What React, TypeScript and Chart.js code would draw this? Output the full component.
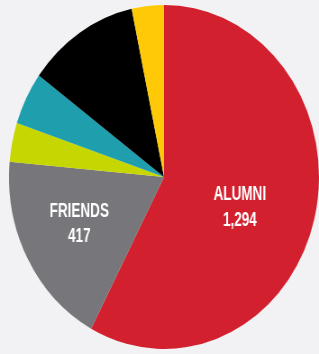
import React, { useEffect, useRef } from "react";
import { Chart, registerables } from "chart.js";

Chart.register(...registerables);

const categories = ["ALUMNI", "FRIENDS", "OTHER A", "OTHER B", "OTHER C", "OTHER D"];
const values = [1294, 417, 82, 111, 260, 75];
const valueLabels = ["1,294", "417", "", "", "", ""];
const showLabel = [true, true, false, false, false, false];
const colors = ["#d2202f", "#77777b", "#c6d600", "#1f9fae", "#000000", "#ffc907"];

const labelPlugin = {
  id: "sliceLabels",
  afterDatasetsDraw(chart: any) {
    const ctx = chart.ctx;
    const meta = chart.getDatasetMeta(0);
    const place: Record<number, { f: number; da: number }> = {
      0: { f: 0.52, da: 0.1 },
      1: { f: 0.61, da: 0.035 },
    };
    meta.data.forEach((arc: any, i: number) => {
      if (!showLabel[i]) return;
      const { x, y, startAngle, endAngle, outerRadius } = arc.getProps(
        ["x", "y", "startAngle", "endAngle", "outerRadius"],
        true
      );
      const p = place[i] || { f: 0.5, da: 0 };
      const mid = (startAngle + endAngle) / 2 + p.da;
      const cx = x + Math.cos(mid) * outerRadius * p.f;
      const cy = y + Math.sin(mid) * outerRadius * p.f;
      ctx.save();
      ctx.translate(cx, cy);
      ctx.scale(0.75, 1);
      ctx.fillStyle = "#ffffff";
      ctx.textAlign = "center";
      ctx.textBaseline = "middle";
      ctx.font = 'bold 20px "Liberation Sans", Arial, sans-serif';
      ctx.fillText(categories[i], 0, -12.5);
      ctx.fillText(valueLabels[i], 0, 13);
      ctx.restore();
    });
  },
};

export default function App() {
  const ref = useRef<HTMLCanvasElement | null>(null);
  useEffect(() => {
    if (!ref.current) return;
    const chart = new Chart(ref.current, {
      type: "pie",
      data: {
        labels: categories,
        datasets: [
          {
            data: values,
            backgroundColor: colors,
            borderWidth: 0,
          },
        ],
      },
      options: {
        responsive: false,
        animation: false,
        layout: { padding: 0 },
        plugins: {
          legend: { display: false },
          tooltip: { enabled: false },
        },
      },
      plugins: [labelPlugin],
    });
    return () => chart.destroy();
  }, []);
  return (
    <div
      style={{
        position: "fixed",
        left: 0,
        top: 0,
        width: 319,
        height: 354,
        background: "#f2f2f4",
        overflow: "hidden",
      }}
    >
      <canvas
        ref={ref}
        width={344}
        height={344}
        style={{
          position: "absolute",
          left: "9px",
          top: "5px",
          width: "310px",
          height: "344px",
        }}
      />
    </div>
  );
}
